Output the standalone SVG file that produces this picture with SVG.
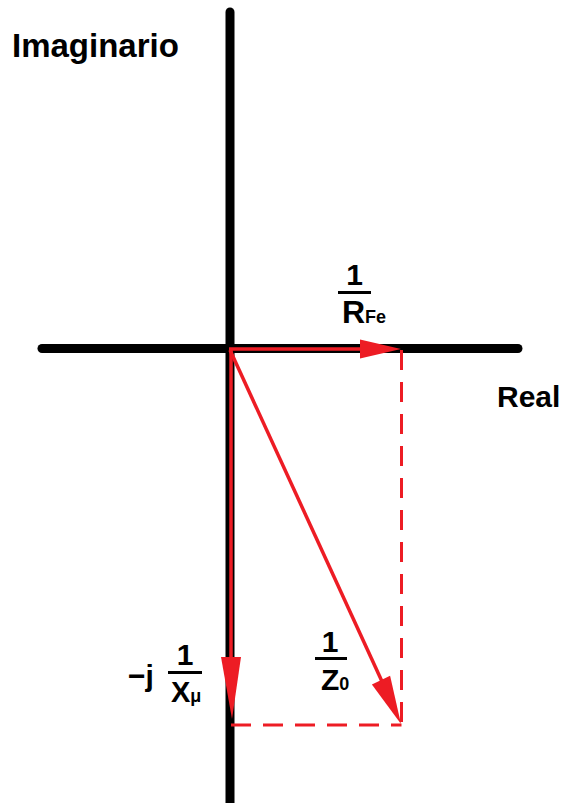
<svg xmlns="http://www.w3.org/2000/svg" width="568" height="803" viewBox="0 0 568 803">
<style>
.axis{stroke:#000;stroke-width:9;stroke-linecap:round;fill:none}
.vec{stroke:#ED1C24;stroke-width:3.5;fill:none}
.dash{stroke:#ED1C24;stroke-width:3;fill:none;stroke-dasharray:20 12}
.head{fill:#ED1C24}
.lbl{font-family:"Liberation Sans",Arial,sans-serif;font-weight:bold;fill:#000}
.bar{stroke:#000;stroke-width:3}
</style>
<rect width="568" height="803" fill="#fff"/>
<g id="axes">
<line class="axis" x1="230" y1="12" x2="230" y2="810"/>
<line class="axis" x1="42" y1="348.5" x2="518" y2="348.5"/>
</g>
<g id="connectors">
<line class="vec" x1="229" y1="349" x2="365" y2="349"/>
<polygon class="head" points="360,339.5 401,349 360,358.5"/>
<line class="vec" x1="231" y1="349" x2="231" y2="665"/>
<polygon class="head" points="221,657 232,719 241,657"/>
<line class="vec" x1="230" y1="350" x2="385" y2="688"/>
<polygon class="head" points="371.9,684.4 401,724 390.1,675.8"/>
<line class="dash" x1="401.5" y1="350" x2="401.5" y2="725"/>
<line class="dash" x1="231" y1="725" x2="401.5" y2="725"/>
</g>
<g id="label-imaginario"><text class="lbl" x="12" y="57" font-size="33">Imaginario</text></g>
<g id="label-real"><text class="lbl" x="497" y="407" font-size="30">Real</text></g>
<g id="label-rfe">
<text class="lbl" x="354.5" y="285" font-size="30" text-anchor="middle">1</text>
<line class="bar" x1="338" y1="292.5" x2="371" y2="292.5"/>
<text class="lbl" x="342" y="323" font-size="32">R<tspan font-size="18">Fe</tspan></text>
</g>
<g id="label-xmu">
<text class="lbl" x="128" y="686" font-size="30">−j</text>
<text class="lbl" x="185" y="665" font-size="30" text-anchor="middle">1</text>
<line class="bar" x1="168" y1="672.5" x2="202" y2="672.5"/>
<text class="lbl" x="171" y="702" font-size="29">X<tspan font-size="18">μ</tspan></text>
</g>
<g id="label-z0">
<text class="lbl" x="330" y="652" font-size="30" text-anchor="middle">1</text>
<line class="bar" x1="315" y1="658.5" x2="347" y2="658.5"/>
<text class="lbl" x="321" y="690" font-size="30">Z<tspan font-size="18">0</tspan></text>
</g>
</svg>
